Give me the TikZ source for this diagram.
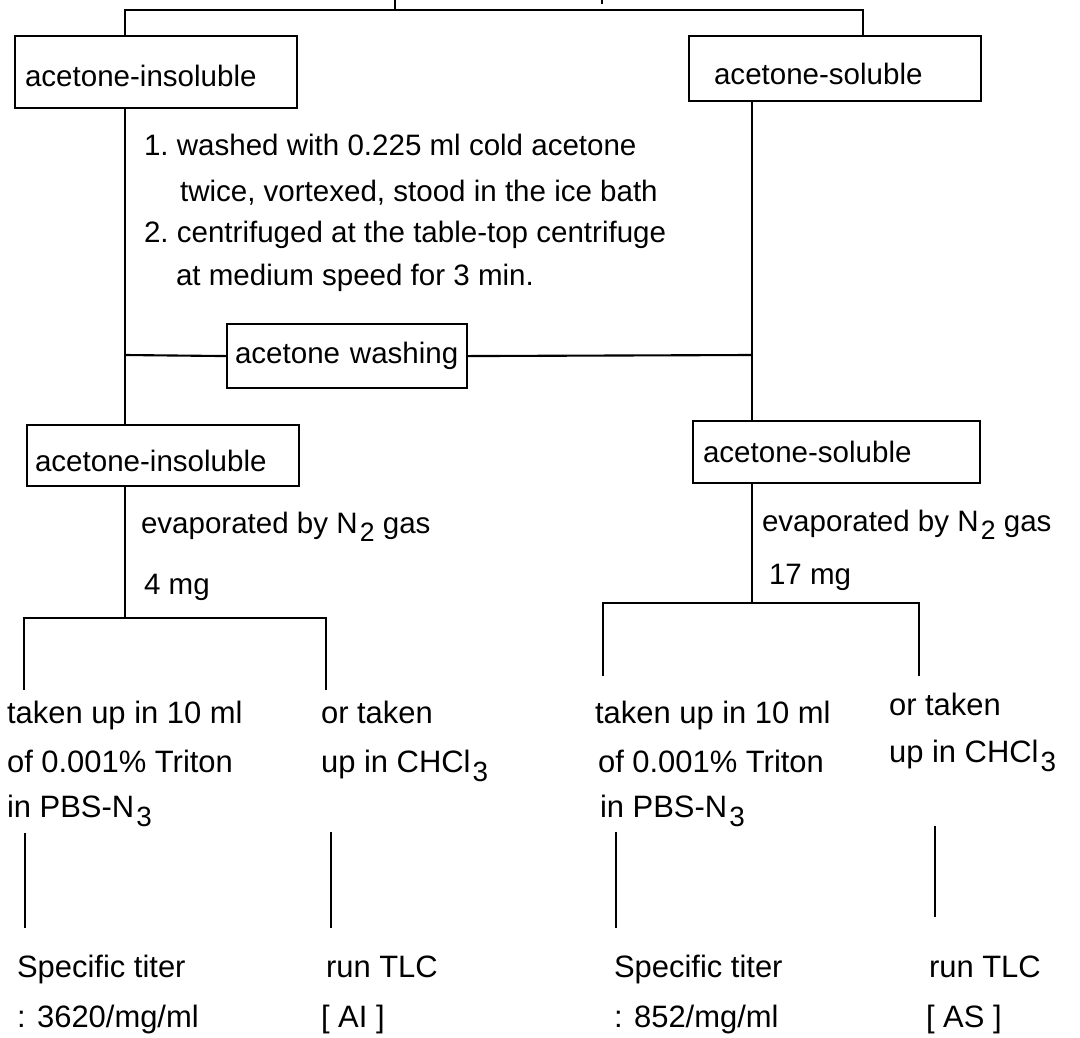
\documentclass[tikz,border=0pt]{standalone}
\usepackage{fontspec}
\setmainfont{Liberation Sans}
\newcommand{\lowsub}[1]{\kern1.5pt\raisebox{-0.55ex}{\scalebox{0.9}{#1}}}
\newcommand{\dropby}[2]{\raisebox{-#1}[\height][\depth]{#2}}
\tikzset{
  stage/.style={draw,line width=1.5pt,anchor=north west,align=left,inner ysep=0pt},
  note/.style={anchor=west,inner sep=0pt,text height=0.73em,text depth=0pt},
  bignote/.style={note,font=\fontsize{22pt}{26pt}\selectfont}
}
\begin{document}
\begin{tikzpicture}[x=0.025cm,y=-0.025cm,line width=1.5pt,every node/.append style={font=\fontsize{21pt}{25pt}\selectfont}]
\useasboundingbox (0,0) rectangle (1080,1038);

%
% first split
%
\coordinate (stub) at (395,0);
\coordinate (jTopL) at (125,10);
\coordinate (jTopR) at (863,10);
\coordinate (tick) at (602,0);
\draw (stub) -- (stub |- jTopL);
\draw (tick) -- ++(0,4);

\node (boxA) [stage,minimum height=1.8cm,text width=6.55cm,inner xsep=0.25cm] at (14,35) {\dropby{3pt}{acetone-insoluble}};
\node (boxB) [stage,minimum height=1.625cm,text width=6.05cm,inner xsep=0.625cm] at (688,35) {\dropby{4pt}{acetone-soluble}};
\draw (jTopL |- boxA.north) -- (jTopL) -- (jTopR) -- (jTopR |- boxB.north);

% washing steps
\node (wash1) [note] at (143,150) {1.\ washed with 0.225 ml cold acetone};
\node (wash2) [note] at (179,196) {twice, vortexed, stood in the ice bath};
\node (wash3) [note] at (143,237) {2.\ centrifuged at the table-top centrifuge};
\node (wash4) [note] at (175,280) {at medium speed for 3 min.};

%
% acetone washing
%
\node (boxW) [stage,minimum height=1.6cm,text width=5.6cm,inner xsep=0.2cm] at (226,323) {\mbox{acetone washing}};
\node (boxC) [stage,minimum height=1.525cm,text width=6.4cm,inner xsep=0.2cm] at (26,424) {\dropby{3.5pt}{acetone-insoluble}};
\node (boxD) [stage,minimum height=1.55cm,text width=6.675cm,inner xsep=0.25cm] at (692,420) {acetone-soluble};

\coordinate (trunkL) at (125,355);
\coordinate (trunkR) at (752,355);
\draw (trunkL |- boxA.south) -- (trunkL |- boxC.north);
\draw (trunkR |- boxB.south) -- (trunkR |- boxD.north);
\draw (trunkL) -- (boxW.west);
\draw (boxW.east) -- (trunkR);

%
% evaporation
%
\node (evapL) [note] at (140,528) {evaporated by N\lowsub{2} gas};
\node (massL) [note] at (143,589) {4 mg};
\node (evapR) [note] at (761,526) {evaporated by N\lowsub{2} gas};
\node (massR) [note] at (768,579) {17 mg};

\coordinate (splitL) at (125,618);
\coordinate (splitR) at (752,603);
\coordinate (legL1) at (24,690);
\coordinate (legL2) at (326,690);
\coordinate (legR1) at (603,676);
\coordinate (legR2) at (919,676);
\draw (trunkL |- boxC.south) -- (splitL);
\draw (trunkR |- boxD.south) -- (splitR);
\draw (legL1) |- (splitL) -| (legL2);
\draw (legR1) |- (splitR) -| (legR2);

%
% taken up
%
\node (tritonL1) [bignote] at (6,718) {taken up in 10 ml};
\node (tritonL2) [bignote] at (6,767) {of 0.001\% Triton};
\node (tritonL3) [bignote] at (6,812) {in PBS-N\lowsub{3}};
\node (chclL1) [bignote] at (320,718) {or taken};
\node (chclL2) [bignote] at (320,767) {up in CHCl\lowsub{3}};
\node (tritonR1) [bignote] at (594,718) {taken up in 10 ml};
\node (tritonR2) [bignote] at (597,767) {of 0.001\% Triton};
\node (tritonR3) [bignote] at (599,812) {in PBS-N\lowsub{3}};
\node (chclR1) [bignote] at (888,710) {or taken};
\node (chclR2) [bignote] at (888,757) {up in CHCl\lowsub{3}};

% results
\node (titerL1) [bignote] at (16,972) {Specific titer};
\node (titerL2) [bignote] at (16,1022) {: 3620/mg/ml};
\node (tlcL1) [bignote] at (325,972) {run TLC};
\node (tlcL2) [bignote] at (320,1022) {[ AI ]};
\node (titerR1) [bignote] at (613,972) {Specific titer};
\node (titerR2) [bignote] at (613,1022) {: 852/mg/ml};
\node (tlcR1) [bignote] at (928,972) {run TLC};
\node (tlcR2) [bignote] at (925,1022) {[ AS ]};

\coordinate (dropL1) at (25,833);
\coordinate (dropL2) at (331,832);
\coordinate (dropR1) at (616,832);
\coordinate (dropR2) at (935,826);
\draw (dropL1) -- (dropL1 |- 0,928);
\draw (dropL2) -- (dropL2 |- 0,928);
\draw (dropR1) -- (dropR1 |- 0,928);
\draw (dropR2) -- (dropR2 |- 0,917);

\end{tikzpicture}
\end{document}
